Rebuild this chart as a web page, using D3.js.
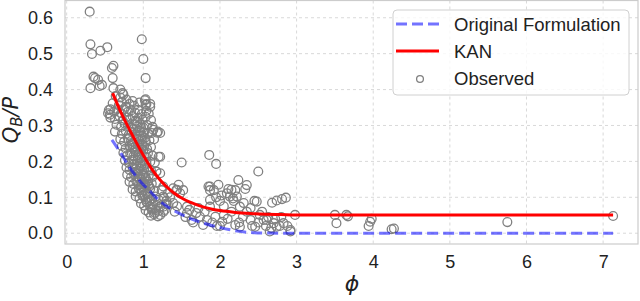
<!DOCTYPE html>
<meta charset="utf-8">
<style>
body { margin: 0; background: #fff; }
text { font-family: "Liberation Sans", Arial, sans-serif; fill: #222; }
.grid line { stroke: #cfcfcf; stroke-width: 0.8; stroke-dasharray: 3,3; }
.obs { fill: none; stroke: #808080; stroke-width: 1.3; }
</style>
<body>
<script src="https://cdn.jsdelivr.net/npm/d3@7"></script>
<script>

// tick values
var xTicks = [0, 1, 2, 3, 4, 5, 6, 7];
var yTicks = [0, 0.1, 0.2, 0.3, 0.4, 0.5, 0.6];

// curves: [phi, QB/P]
var original = [[0.59,0.26],[0.7,0.225],[0.8,0.19],[0.9,0.16],[1.0,0.135],[1.1,0.114],[1.2,0.092],
  [1.3,0.076],[1.4,0.063],[1.5,0.052],[1.6,0.042],[1.7,0.034],[1.8,0.027],[1.9,0.021],[2.0,0.016],
  [2.1,0.011],[2.2,0.007],[2.3,0.004],[2.4,0.002],[2.6,0.0005],[2.8,0],[3.0,0],[5.0,0],[7.13,0]];

var kan = [[0.6,0.39],[0.7,0.34],[0.8,0.297],[0.9,0.256],[1.0,0.217],[1.1,0.182],[1.2,0.153],
  [1.3,0.13],[1.4,0.112],[1.5,0.098],[1.6,0.087],[1.7,0.079],[1.8,0.072],[1.9,0.067],[2.0,0.063],
  [2.2,0.058],[2.4,0.055],[2.6,0.053],[2.8,0.052],[3.0,0.051],[4.0,0.051],[5.0,0.051],[6.0,0.051],[7.13,0.051]];

// observed points
var observed = [
  [0.30,0.617],[0.31,0.526],[0.33,0.499],[0.44,0.508],[0.53,0.518],[0.98,0.540],[1.00,0.485],[1.03,0.432],
  [0.59,0.46],[0.61,0.466],[0.60,0.432],[0.35,0.436],[0.37,0.432],[0.41,0.427],[0.31,0.404],[0.46,0.413],
  [0.43,0.41],[0.61,0.404],[0.70,0.40],[0.73,0.39],[1.03,0.373],[1.04,0.36],[1.11,0.279],[1.22,0.279],
  [0.565,0.33],[0.57,0.345],[1.02,0.37],[1.09,0.36],[1.13,0.288],[1.19,0.283],[0.54,0.334],
  [0.64,0.382],[0.70,0.378],[0.74,0.386],[0.78,0.372],[0.86,0.368],
  [0.60,0.362],[0.68,0.356],[0.72,0.365],[0.77,0.352],[0.82,0.36],[0.88,0.355],[0.95,0.364],[1.03,0.358],[1.09,0.352],
  [0.55,0.343],[0.62,0.338],[0.66,0.346],[0.71,0.334],[0.75,0.345],[0.80,0.338],[0.84,0.342],[0.89,0.336],[0.93,0.344],[0.98,0.332],[1.04,0.341],[1.07,0.333],
  [0.57,0.322],[0.63,0.318],[0.69,0.326],[0.73,0.314],[0.78,0.323],[0.82,0.317],[0.86,0.326],[0.90,0.313],[0.94,0.321],[0.99,0.316],[1.03,0.324],[1.10,0.315],
  [0.65,0.302],[0.71,0.296],[0.76,0.305],[0.80,0.298],[0.84,0.293],[0.88,0.304],[0.92,0.297],[0.96,0.303],[1.00,0.294],[1.05,0.301],[1.12,0.296],
  [0.63,0.283],[0.72,0.277],[0.77,0.285],[0.81,0.274],[0.85,0.282],[0.89,0.276],[0.93,0.284],[0.97,0.273],[1.01,0.281],[1.06,0.278],[1.18,0.28],
  [0.70,0.262],[0.75,0.255],[0.80,0.264],[0.84,0.257],[0.88,0.252],[0.91,0.263],[0.95,0.256],[0.99,0.261],[1.03,0.254],[1.08,0.259],[1.14,0.262],
  [0.72,0.243],[0.77,0.236],[0.82,0.244],[0.86,0.238],[0.89,0.232],[0.93,0.245],[0.97,0.237],[1.01,0.242],[1.05,0.234],[1.10,0.24],
  [0.74,0.224],[0.79,0.217],[0.83,0.222],[0.87,0.214],[0.90,0.225],[0.94,0.218],[0.98,0.221],[1.02,0.213],[1.06,0.223],[1.12,0.216],[1.20,0.213],
  [0.76,0.203],[0.81,0.196],[0.85,0.204],[0.88,0.193],[0.92,0.201],[0.96,0.195],[1.00,0.202],[1.04,0.194],[1.09,0.199],[1.15,0.197],
  [0.78,0.183],[0.82,0.176],[0.86,0.184],[0.90,0.178],[0.94,0.173],[0.97,0.185],[1.01,0.177],[1.05,0.182],[1.10,0.175],[1.17,0.172],
  [0.79,0.163],[0.84,0.156],[0.88,0.164],[0.92,0.158],[0.95,0.152],[0.99,0.162],[1.03,0.155],[1.07,0.161],[1.12,0.157],[1.22,0.167],
  [0.82,0.143],[0.87,0.137],[0.91,0.145],[0.94,0.134],[0.98,0.142],[1.02,0.136],[1.06,0.144],[1.11,0.138],[1.17,0.141],
  [0.86,0.122],[0.90,0.116],[0.94,0.125],[0.98,0.113],[1.01,0.121],[1.05,0.115],[1.09,0.124],[1.14,0.118],[1.24,0.12],
  [0.90,0.103],[0.95,0.097],[0.99,0.104],[1.03,0.095],[1.07,0.101],[1.11,0.096],[1.16,0.102],[1.27,0.098],
  [0.97,0.083],[1.01,0.077],[1.05,0.085],[1.09,0.074],[1.13,0.081],[1.18,0.078],[1.30,0.082],
  [1.03,0.064],[1.07,0.058],[1.11,0.066],[1.15,0.057],[1.20,0.062],[1.26,0.059],
  [1.10,0.049],[1.14,0.053],[1.19,0.047],
  [0.87,0.29],[0.91,0.27],[0.95,0.285],[0.99,0.27],[0.85,0.248],[0.90,0.242],[0.96,0.228],[1.00,0.232],
  [0.87,0.205],[0.93,0.21],[0.97,0.19],[1.02,0.19],[0.89,0.17],[0.93,0.165],[0.98,0.15],[1.03,0.135],
  [1.00,0.13],[0.96,0.12],[1.06,0.11],[1.04,0.088],[1.22,0.213],[1.17,0.172],
  [0.92,0.31],[0.97,0.295],[1.02,0.265],[0.94,0.262],[0.98,0.248],[0.92,0.228],[1.04,0.212],[0.95,0.18],
  [1.00,0.165],[1.04,0.15],[1.08,0.13],[0.96,0.135],[1.02,0.105],[1.08,0.092],[1.12,0.07],[1.16,0.065],
  [1.26,0.13],[1.39,0.125],[1.43,0.12],[1.26,0.074],[1.30,0.09],[1.35,0.10],[1.41,0.06],[1.57,0.056],
  [1.63,0.037],[1.69,0.056],[1.78,0.023],[1.87,0.093],[1.87,0.074],[1.94,0.046],[2.03,0.032],[2.09,0.111],
  [2.15,0.121],[2.13,0.102],[2.17,0.097],[2.24,0.148],[2.26,0.074],[2.30,0.046],[2.20,0.023],[2.00,0.02],
  [1.96,0.02],[1.83,0.037],[1.74,0.046],[1.50,0.197],[1.86,0.218],[1.95,0.193],[2.50,0.172],[1.87,0.13],
  [2.11,0.123],[2.20,0.12],[2.22,0.102],[2.18,0.09],[2.33,0.123],[2.48,0.088],[2.68,0.085],[2.74,0.091],
  [2.81,0.095],[2.86,0.099],[2.98,0.051],[2.92,0.009],[2.31,0.084],[2.35,0.134],[2.52,0.051],[2.61,0.037],
  [2.70,0.028],[2.83,0.028],[2.92,0.005],[2.46,0.018],[2.65,0.005],[2.74,0.018],[2.57,0.037],[2.40,0.037],
  [2.26,0.018],[1.46,0.135],[1.39,0.084],[1.44,0.075],[1.57,0.074],[1.48,0.111],[1.52,0.12],[1.44,0.121],
  [1.32,0.111],[1.26,0.102],[1.32,0.08],[1.28,0.065],[1.22,0.051],[1.20,0.093],[1.22,0.074],
  [1.55,0.045],[1.60,0.065],[1.65,0.03],[1.72,0.07],[1.80,0.06],[1.90,0.03],[2.05,0.05],[2.10,0.04],
  [2.15,0.06],[2.25,0.03],[2.35,0.06],[2.42,0.02],[2.50,0.03],[2.55,0.06],[2.60,0.02],[2.63,0.045],
  [2.67,0.015],[2.72,0.04],[2.78,0.02],[2.80,0.045],[2.88,0.02],[2.40,0.07],[2.45,0.09],[2.00,0.09],
  [2.05,0.075],[1.95,0.10],[1.92,0.12],[1.98,0.135],[2.02,0.105],[1.85,0.13],[1.87,0.12],
  [3.50,0.051],[3.52,0.028],[3.65,0.051],[3.67,0.047],[3.94,0.02],[3.96,0.032],[3.98,0.04],
  [4.24,0.011],[4.27,0.013],[5.75,0.031],[7.13,0.048]
];

var W = 640, H = 301;
var plot = {left: 65, right: 638, top: 0.5, bottom: 244};

var x = d3.scaleLinear().domain([-0.022, 7.455]).range([plot.left, plot.right]);
var y = d3.scaleLinear().domain([-0.03, 0.648]).range([plot.bottom, plot.top]);

var svg = d3.select("body").append("svg")
    .attr("width", W)
    .attr("height", H);

// grid
var grid = svg.append("g").attr("class", "grid");
grid.selectAll(".gx").data(xTicks).enter().append("line")
    .attr("x1", function(d) { return x(d); }).attr("x2", function(d) { return x(d); })
    .attr("y1", plot.top).attr("y2", plot.bottom);
grid.selectAll(".gy").data(yTicks).enter().append("line")
    .attr("y1", function(d) { return y(d); }).attr("y2", function(d) { return y(d); })
    .attr("x1", plot.left).attr("x2", plot.right);

// axes (no tick marks, only labels)
var xAxis = svg.append("g")
    .attr("transform", "translate(0," + plot.bottom + ")")
    .call(d3.axisBottom(x).tickValues(xTicks).tickSize(0).tickPadding(11).tickFormat(d3.format("d")));
var yAxis = svg.append("g")
    .attr("transform", "translate(" + plot.left + ",0)")
    .call(d3.axisLeft(y).tickValues(yTicks).tickSize(0).tickPadding(12).tickFormat(d3.format(".1f")));
[xAxis, yAxis].forEach(function(a) {
  a.select(".domain").remove();
  a.selectAll("text").style("font-size", "18px").style("font-family", "Liberation Sans, Arial, sans-serif").attr("fill", "#222");
});

// frame
svg.append("rect")
    .attr("x", plot.left).attr("y", plot.top)
    .attr("width", plot.right - plot.left).attr("height", plot.bottom - plot.top)
    .attr("fill", "none").attr("stroke", "#cccccc").attr("stroke-width", 1.2);

// observed
svg.append("g").selectAll("circle")
    .data(observed).enter().append("circle")
    .attr("class", "obs")
    .attr("cx", function(d) { return x(d[0]); })
    .attr("cy", function(d) { return y(d[1]); })
    .attr("r", 4.4);

var line = d3.line()
    .x(function(d) { return x(d[0]); })
    .y(function(d) { return y(d[1]); })
    .curve(d3.curveMonotoneX);

svg.append("path").datum(original)
    .attr("d", line)
    .attr("fill", "none")
    .attr("stroke", "#0000ff").attr("stroke-opacity", 0.55)
    .attr("stroke-width", 3)
    .attr("stroke-dasharray", "11,5");

svg.append("path").datum(kan)
    .attr("d", line)
    .attr("fill", "none")
    .attr("stroke", "#ff0000")
    .attr("stroke-width", 3);

// axis labels
svg.append("text")
    .attr("x", 352).attr("y", 291)
    .attr("text-anchor", "middle")
    .style("font-family", "DejaVu Sans, sans-serif")
    .style("font-style", "italic")
    .style("font-size", "22px")
    .text("\u03d5");

var yl = svg.append("text")
    .attr("transform", "translate(18,120) rotate(-90)")
    .attr("text-anchor", "middle")
    .style("font-family", "DejaVu Sans, sans-serif")
    .style("font-style", "italic")
    .style("font-size", "21px");
yl.append("tspan").text("Q");
yl.append("tspan").attr("dy", 4).style("font-size", "15px").text("B");
yl.append("tspan").attr("dy", -4).text("/P");

// legend
var lg = svg.append("g");
lg.append("rect")
    .attr("x", 393).attr("y", 10).attr("width", 236).attr("height", 85)
    .attr("rx", 4)
    .attr("fill", "#fff").attr("fill-opacity", 0.8)
    .attr("stroke", "#d0d0d0");
lg.append("line").attr("x1", 396).attr("x2", 439).attr("y1", 24).attr("y2", 24)
    .attr("stroke", "#0000ff").attr("stroke-opacity", 0.55).attr("stroke-width", 3).attr("stroke-dasharray", "11,5");
lg.append("line").attr("x1", 396).attr("x2", 439).attr("y1", 51).attr("y2", 51)
    .attr("stroke", "#ff0000").attr("stroke-width", 3);
lg.append("circle").attr("cx", 420).attr("cy", 79).attr("r", 3.4).attr("class", "obs");
var labels = ["Original Formulation", "KAN", "Observed"];
lg.selectAll(".lt").data(labels).enter().append("text")
    .attr("x", 454)
    .attr("y", function(d, i) { return 30.5 + i * 27.3; })
    .style("font-size", "18.5px")
    .text(function(d) { return d; });

</script>
</body>
